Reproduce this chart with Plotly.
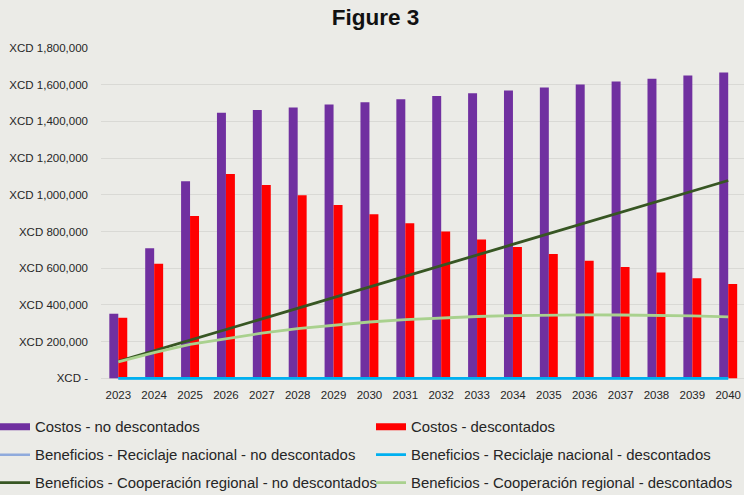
import plotly.graph_objects as go

# Years on the category axis
years = [str(y) for y in range(2023, 2041)]

# Costs (XCD)
costos_no_desc = [352000, 709000, 1074000, 1447000, 1462000, 1476000, 1492000, 1505000, 1521000,
                  1538000, 1554000, 1569000, 1585000, 1601000, 1618000, 1632000, 1650000, 1667000]
costos_desc = [330000, 625000, 885000, 1114000, 1054000, 998000, 944000, 894000, 845000,
               800000, 756000, 716000, 678000, 641000, 607000, 576000, 545000, 514000]

# Benefits (XCD)
recic_no_desc = [0] * 18
recic_desc = [0] * 18
coop_no_desc = [92000, 150000, 208000, 266000, 324000, 382000, 440000, 498000, 556000,
                614000, 672000, 730000, 788000, 846000, 904000, 962000, 1020000, 1078000]
coop_desc = [90000, 140000, 185000, 216000, 246000, 271000, 291000, 307000, 320000,
             330000, 337000, 342000, 345000, 346000, 345000, 343000, 340000, 335000]

# Y axis ticks
y_tickvals = [0, 200000, 400000, 600000, 800000, 1000000, 1200000, 1400000, 1600000, 1800000]
y_ticktext = ["XCD -", "XCD 200,000", "XCD 400,000", "XCD 600,000", "XCD 800,000",
              "XCD 1,000,000", "XCD 1,200,000", "XCD 1,400,000", "XCD 1,600,000", "XCD 1,800,000"]

PURPLE = "#7030a0"
RED = "#ff0000"
LBLUE = "#8faadc"
CYAN = "#00b0f0"
DGREEN = "#375623"
LGREEN = "#a9d18e"
BG = "#ebebe7"
FONT = "Liberation Sans, Arial, sans-serif"

W, H = 744, 495
M_LEFT = 101
PLOT_W = W - M_LEFT

fig = go.Figure()

# Bars
fig.add_trace(go.Bar(x=years, y=costos_no_desc, marker=dict(color=PURPLE, line=dict(width=0)),
                     name="Costos - no descontados", legendgroup="cn", showlegend=False))
fig.add_trace(go.Bar(x=years, y=costos_desc, marker=dict(color=RED, line=dict(width=0)),
                     name="Costos - descontados", legendgroup="cd", showlegend=False))

# Benefit lines
fig.add_trace(go.Scatter(x=years, y=recic_no_desc, mode="lines", line=dict(color=LBLUE, width=2.5),
                         name="Beneficios - Reciclaje nacional - no descontados", legend="legend3"))
fig.add_trace(go.Scatter(x=years, y=recic_desc, mode="lines", line=dict(color=CYAN, width=2.8),
                         name="Beneficios - Reciclaje nacional - descontados", legend="legend4"))
fig.add_trace(go.Scatter(x=years, y=coop_no_desc, mode="lines", line=dict(color=DGREEN, width=2.8),
                         name="Beneficios - Cooperación regional - no descontados", legend="legend5"))
fig.add_trace(go.Scatter(x=years, y=coop_desc, mode="lines", line=dict(color=LGREEN, width=2.8),
                         name="Beneficios - Cooperación regional - descontados", legend="legend6"))

# Legend keys for the bar series (wide swatches)
fig.add_trace(go.Scatter(x=[None], y=[None], mode="lines", line=dict(color=PURPLE, width=7),
                         name="Costos - no descontados", legendgroup="cn", legend="legend"))
fig.add_trace(go.Scatter(x=[None], y=[None], mode="lines", line=dict(color=RED, width=7),
                         name="Costos - descontados", legendgroup="cd", legend="legend2"))


def legend_at(px_x, px_y):
    """One-entry legend placed by pixel position (left edge, vertical centre)."""
    return dict(orientation="h", xref="paper", x=(px_x - M_LEFT) / PLOT_W, yref="container",
                y=1 - px_y / H, xanchor="left", yanchor="middle", bgcolor="rgba(0,0,0,0)",
                font=dict(family=FONT, size=14.9, color="#262626"))


col1, col2 = -5, 371
row1, row2, row3 = 427, 455, 483

# Y range dips slightly below zero so the zero-level lines are not clipped
y_min, y_max = -20000, 1800000
plot_top = 48.3
px_per_unit = (378.3 - plot_top) / 1800000
plot_h = (y_max - y_min) * px_per_unit

fig.update_layout(
    width=W, height=H,
    paper_bgcolor=BG, plot_bgcolor=BG,
    margin=dict(l=M_LEFT, r=0, t=plot_top, b=H - plot_top - plot_h, autoexpand=False),
    barmode="group", bargap=0.5, bargroupgap=0,
    title=dict(text="Figure 3", x=375.5 / W, xanchor="center", xref="container",
               y=1 - 17.5 / H, yanchor="middle", yref="container",
               font=dict(family=FONT, size=22.5, weight="bold", color="#111111")),
    xaxis=dict(type="category", range=[-0.482, 17.44], showgrid=False, zeroline=False,
               showline=False, ticks="", ticklabelstandoff=4,
               tickfont=dict(family=FONT, size=11.5, color="#262626")),
    yaxis=dict(range=[y_min, y_max], tickvals=y_tickvals, ticktext=y_ticktext,
               showgrid=True, gridcolor="#d9d9d5", gridwidth=1, zeroline=False,
               showline=False, ticks="", ticklabelstandoff=12,
               tickfont=dict(family=FONT, size=11.5, color="#262626")),
    legend=legend_at(col1, row1),
    legend2=legend_at(col2, row1),
    legend3=legend_at(col1, row2),
    legend4=legend_at(col2, row2),
    legend5=legend_at(col1, row3),
    legend6=legend_at(col2, row3),
)

fig.write_html("out.html")
